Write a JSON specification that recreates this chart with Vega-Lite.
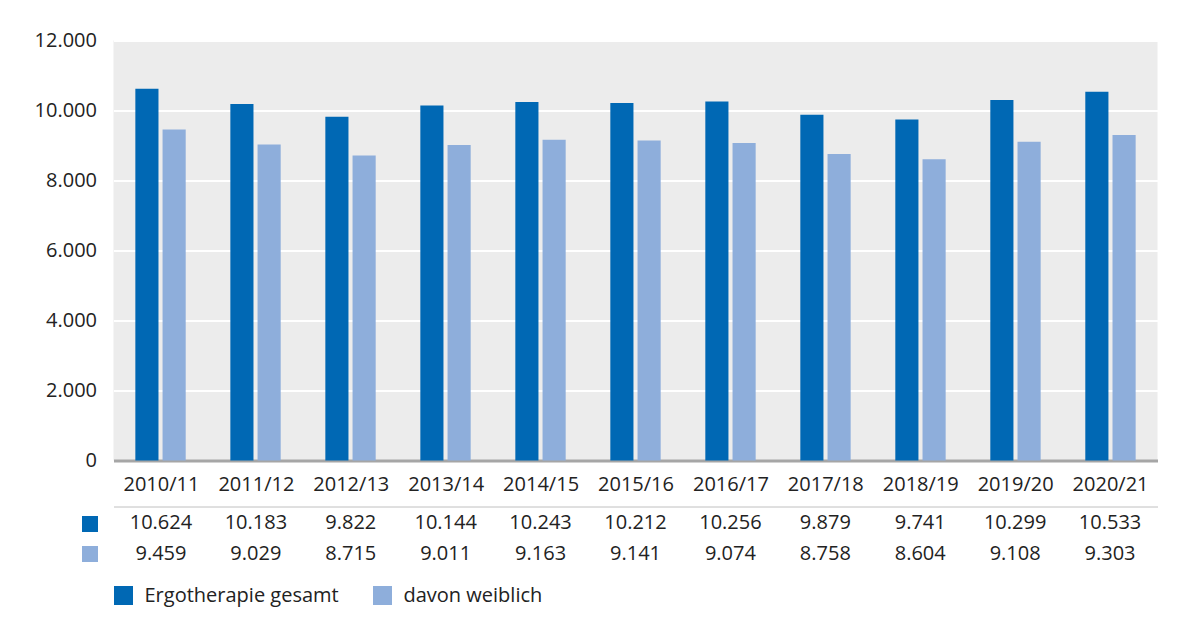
{
  "$schema": "https://vega.github.io/schema/vega-lite/v6.json",
  "background": "white",
  "padding": {"left": 33.5, "top": 30.5, "right": 10, "bottom": 5},
  "data": {"values": [
    {"jahr": "2010/11", "serie": "Ergotherapie gesamt", "wert": 10624},
    {"jahr": "2011/12", "serie": "Ergotherapie gesamt", "wert": 10183},
    {"jahr": "2012/13", "serie": "Ergotherapie gesamt", "wert": 9822},
    {"jahr": "2013/14", "serie": "Ergotherapie gesamt", "wert": 10144},
    {"jahr": "2014/15", "serie": "Ergotherapie gesamt", "wert": 10243},
    {"jahr": "2015/16", "serie": "Ergotherapie gesamt", "wert": 10212},
    {"jahr": "2016/17", "serie": "Ergotherapie gesamt", "wert": 10256},
    {"jahr": "2017/18", "serie": "Ergotherapie gesamt", "wert": 9879},
    {"jahr": "2018/19", "serie": "Ergotherapie gesamt", "wert": 9741},
    {"jahr": "2019/20", "serie": "Ergotherapie gesamt", "wert": 10299},
    {"jahr": "2020/21", "serie": "Ergotherapie gesamt", "wert": 10533},
    {"jahr": "2010/11", "serie": "davon weiblich", "wert": 9459},
    {"jahr": "2011/12", "serie": "davon weiblich", "wert": 9029},
    {"jahr": "2012/13", "serie": "davon weiblich", "wert": 8715},
    {"jahr": "2013/14", "serie": "davon weiblich", "wert": 9011},
    {"jahr": "2014/15", "serie": "davon weiblich", "wert": 9163},
    {"jahr": "2015/16", "serie": "davon weiblich", "wert": 9141},
    {"jahr": "2016/17", "serie": "davon weiblich", "wert": 9074},
    {"jahr": "2017/18", "serie": "davon weiblich", "wert": 8758},
    {"jahr": "2018/19", "serie": "davon weiblich", "wert": 8604},
    {"jahr": "2019/20", "serie": "davon weiblich", "wert": 9108},
    {"jahr": "2020/21", "serie": "davon weiblich", "wert": 9303}
  ]},
  "spacing": 4,
  "vconcat": [
    {
      "width": 1044,
      "height": 420,
      "view": {"fill": "#ececec", "stroke": null},
      "mark": {"type": "bar"},
      "encoding": {
        "x": {
          "field": "jahr", "type": "nominal", "sort": null,
          "scale": {"paddingInner": 0.47, "paddingOuter": 0.23},
          "axis": {"labels": false, "ticks": false, "title": null, "domainColor": "#a6a6a6", "domainWidth": 3, "grid": false}
        },
        "xOffset": {
          "field": "serie", "type": "nominal",
          "sort": ["Ergotherapie gesamt", "davon weiblich"],
          "scale": {"paddingInner": 0.15, "paddingOuter": 0}
        },
        "y": {
          "field": "wert", "type": "quantitative",
          "scale": {"domain": [0, 12000], "nice": false},
          "axis": {
            "values": [0, 2000, 4000, 6000, 8000, 10000, 12000],
            "format": ",d", "title": null, "domain": false, "ticks": false,
            "labelPadding": 17, "labelFontSize": 20, "labelFont": "Open Sans", "labelColor": "#222222",
            "gridColor": "#ffffff", "gridWidth": 2
          }
        },
        "color": {
          "field": "serie", "type": "nominal",
          "scale": {"domain": ["Ergotherapie gesamt", "davon weiblich"], "range": ["#0068b4", "#8eaedb"]},
          "legend": {
            "title": null, "orient": "bottom", "direction": "horizontal",
            "symbolType": "square", "symbolSize": 361, "symbolStrokeWidth": 0,
            "labelFontSize": 20, "labelFont": "Open Sans", "labelColor": "#222222", "labelLimit": 0,
            "labelOffset": 11, "columnPadding": 33, "offset": 15
          }
        }
      }
    },
    {
      "width": 1044,
      "height": 64,
      "view": {"stroke": null},
      "mark": {"type": "text", "font": "Open Sans", "fontSize": 20, "color": "#222222", "baseline": "middle"},
      "encoding": {
        "x": {
          "field": "jahr", "type": "nominal", "sort": null,
          "scale": {"paddingInner": 0.47, "paddingOuter": 0.23},
          "axis": {"orient": "top", "title": null, "ticks": false, "domainColor": "#c0c0c0", "domainWidth": 1,
                   "labelPadding": 12, "labelFontSize": 20, "labelFont": "Open Sans", "labelColor": "#222222", "labelAngle": 0}
        },
        "y": {
          "field": "serie", "type": "nominal",
          "sort": ["Ergotherapie gesamt", "davon weiblich"],
          "scale": {"type": "point", "padding": 0.56},
          "axis": {
            "title": null, "labels": false, "domain": false, "grid": false,
            "offset": 16, "tickSize": 16, "tickWidth": 16, "tickCap": "butt",
            "tickColor": {"condition": {"test": "datum.value === 'Ergotherapie gesamt'", "value": "#0068b4"}, "value": "#8eaedb"}
          }
        },
        "text": {"field": "wert", "type": "quantitative", "format": ",d"}
      }
    }
  ],
  "config": {
    "locale": {"number": {"decimal": ",", "thousands": ".", "grouping": [3], "currency": ["", " €"]}},
    "font": "Open Sans"
  }
}
